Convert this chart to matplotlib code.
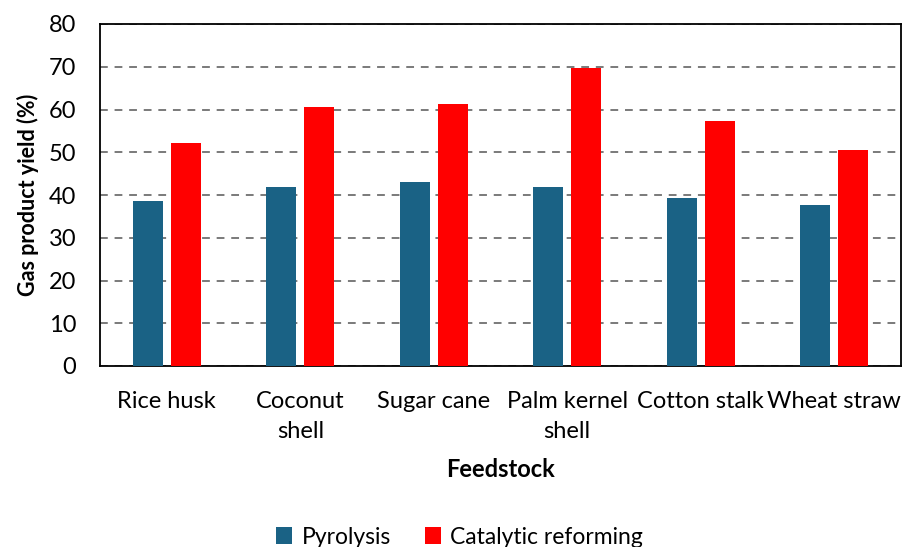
import numpy as np
import matplotlib
matplotlib.use('Agg')
import matplotlib.pyplot as plt

categories = ['Rice husk', 'Coconut\nshell', 'Sugar cane', 'Palm kernel\nshell', 'Cotton stalk', 'Wheat straw']
pyrolysis = [38.6, 41.9, 43.1, 41.9, 39.3, 37.7]
catalytic = [52.2, 60.6, 61.3, 69.7, 57.3, 50.5]
series_names = ['Pyrolysis', 'Catalytic reforming']
yticks = [0, 10, 20, 30, 40, 50, 60, 70, 80]

plt.rcParams['font.family'] = ['Lato', 'DejaVu Sans']

fig = plt.figure(figsize=(9.02, 5.47), dpi=100)
ax = fig.add_axes([100 / 902, 1 - 366 / 547, 801 / 902, 342 / 547])

x = np.arange(len(categories))
w = 0.225
off = 0.143
ax.bar(x - off, pyrolysis, width=w, color='#1a6285', label=series_names[0], zorder=3)
ax.bar(x + off, catalytic, width=w, color='#ff0000', label=series_names[1], zorder=3)

ax.set_xlim(-0.5, len(categories) - 0.5)
ax.set_ylim(0, 80)
ax.set_yticks(yticks)
ax.set_xticks(x)
ax.set_xticklabels(categories, fontsize=17, linespacing=1.5)
ax.tick_params(axis='y', labelsize=17, length=0, pad=17)
ax.tick_params(axis='x', length=0, pad=18)
ax.yaxis.grid(True, linestyle=(0, (4, 3.5)), color='#7a7a7a', linewidth=1.4, zorder=0)
ax.set_axisbelow(True)
for s in ax.spines.values():
    s.set_color('black')
    s.set_linewidth(1.3)

ax.set_ylabel('Gas product yield (%)', fontsize=15.5, fontweight='bold', labelpad=7)
ax.set_xlabel('Feedstock', fontsize=17, fontweight='bold', labelpad=12)

ax.legend(loc='center', bbox_to_anchor=(0.449, -0.5), ncol=2, frameon=False,
          fontsize=16.5, handlelength=0.7, handleheight=0.7, handletextpad=0.4,
          columnspacing=1.5)

fig.savefig('out.png', dpi=100)
